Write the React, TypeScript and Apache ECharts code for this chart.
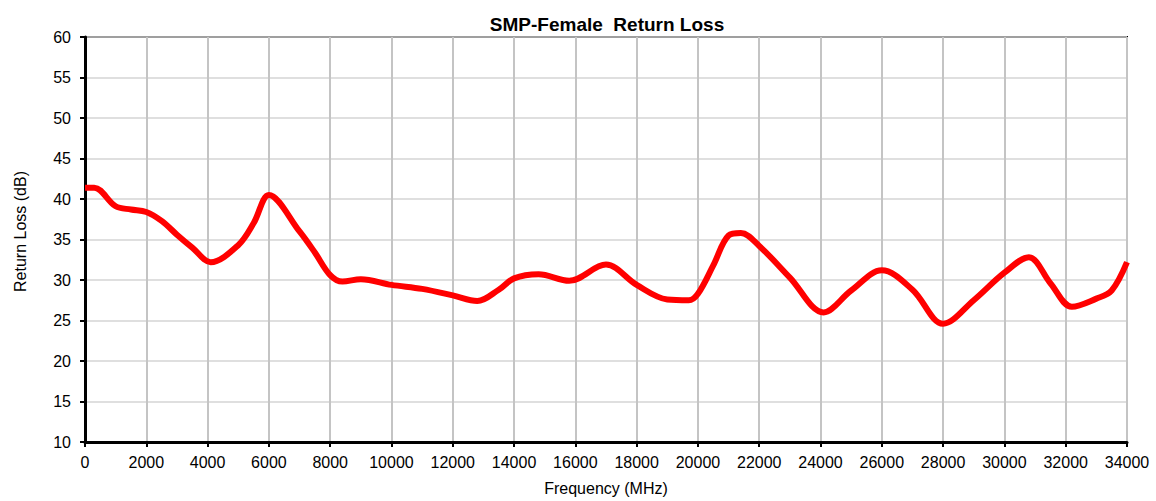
import React, { useEffect, useRef } from "react";
import * as echarts from "echarts";

const frequencies = [0, 300, 1000, 1500, 2000, 2500, 3000, 3500, 4100, 5000, 5500, 6000, 7000, 7500, 8000, 8400, 9000, 10000, 11000, 12000, 12800, 13500, 14000, 14800, 15800, 17000, 18000, 19000, 19700, 20000, 20500, 21000, 21400, 22000, 23000, 24100, 25000, 26000, 27000, 28000, 29000, 30000, 30800, 31500, 32200, 33000, 33500, 34000];
const returnLoss = [41.4, 41.4, 39.1, 38.7, 38.4, 37.3, 35.6, 34.0, 32.2, 34.3, 37.0, 40.5, 36.0, 33.4, 30.6, 29.8, 30.1, 29.4, 28.9, 28.1, 27.4, 28.8, 30.2, 30.7, 29.9, 31.9, 29.4, 27.6, 27.5, 28.3, 31.8, 35.5, 35.8, 34.2, 30.3, 26.0, 28.7, 31.2, 28.8, 24.6, 27.5, 30.9, 32.8, 29.6, 26.7, 27.7, 28.7, 32.2];

const yTicks = { min: 10, max: 60, interval: 5 };
const xTicks = { min: 0, max: 34000, interval: 2000 };

export default function App() {
  const ref = useRef<HTMLDivElement>(null);
  useEffect(() => {
    document.body.style.margin = "0";
    const chart = echarts.init(ref.current!, undefined, { renderer: "svg" });
    const font = "Liberation Sans, Arial, sans-serif";
    chart.setOption({
      animation: false,
      backgroundColor: "#ffffff",
      title: {
        text: "SMP-Female  Return Loss",
        left: 602,
        textAlign: "center",
        top: 10,
        textStyle: { fontFamily: font, fontSize: 19, fontWeight: "bold", color: "#000" },
      },
      grid: {
        left: 85,
        right: 29,
        top: 37,
        bottom: 58,
        show: true,
        borderColor: "#000",
        borderWidth: 2,
        backgroundColor: "transparent",
      },
      xAxis: {
        type: "value",
        min: xTicks.min,
        max: xTicks.max,
        interval: xTicks.interval,
        name: "Frequency (MHz)",
        nameLocation: "middle",
        nameGap: 38,
        nameTextStyle: { fontFamily: font, fontSize: 16, color: "#000" },
        axisLine: { show: true, onZero: false, lineStyle: { color: "#000", width: 3 } },
        axisTick: { show: true, length: 5, lineStyle: { color: "#000", width: 2 } },
        axisLabel: { fontFamily: font, fontSize: 16, color: "#000", margin: 12, formatter: (v: number) => String(v) },
        splitLine: { show: true, lineStyle: { color: "#C4C4C4", width: 2 } },
      },
      yAxis: {
        type: "value",
        min: yTicks.min,
        max: yTicks.max,
        interval: yTicks.interval,
        name: "Return Loss (dB)",
        nameLocation: "middle",
        nameGap: 57,
        nameRotate: 90,
        nameTextStyle: { fontFamily: font, fontSize: 16, color: "#000", padding: [0, 0, 0, 16] },
        axisLine: { show: true, onZero: false, lineStyle: { color: "#000", width: 3 } },
        axisTick: { show: true, length: 5, lineStyle: { color: "#000", width: 2 } },
        axisLabel: { fontFamily: font, fontSize: 16, color: "#000", margin: 14 },
        splitLine: { show: true, lineStyle: { color: "#D4D4D4", width: 1.5 } },
      },
      series: [
        {
          type: "line",
          data: frequencies.map((f, i) => [f, returnLoss[i]]),
          smooth: 0.35,
          showSymbol: false,
          symbol: "none",
          lineStyle: { color: "#FF0000", width: 6 },
          clip: false,
        },
      ],
    });
    return () => chart.dispose();
  }, []);
  return <div ref={ref} style={{ width: 1156, height: 501 }} />;
}
